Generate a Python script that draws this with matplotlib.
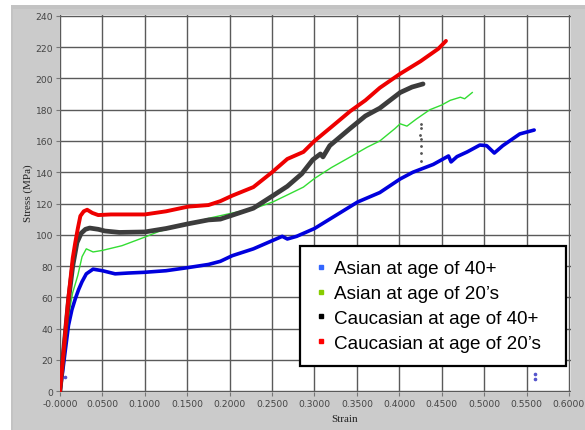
import matplotlib
matplotlib.use("Agg")
import matplotlib.pyplot as plt
import numpy as np
from matplotlib.patches import Rectangle
from matplotlib.lines import Line2D

# curves (strain, stress MPa)
asian40_x = [0, 0.003, 0.006, 0.010, 0.014, 0.018, 0.022, 0.026, 0.031, 0.039, 0.05, 0.065,
             0.08, 0.1, 0.125, 0.151, 0.175, 0.189, 0.203, 0.228, 0.245, 0.262, 0.268, 0.279,
             0.30, 0.315, 0.351, 0.377, 0.401, 0.416, 0.44, 0.458, 0.461, 0.468, 0.48, 0.495,
             0.503, 0.512, 0.522, 0.542, 0.559]
asian40_y = [0, 12, 25, 42, 52, 59, 65, 70, 75, 78, 77, 75, 75.5, 76, 77, 79, 81, 83, 86.6,
             91, 95, 99, 97.3, 99, 104, 109, 121, 127, 135.7, 140, 145, 150.4, 146.6, 150, 153,
             157.4, 157, 152.3, 157, 164.5, 167]

asian20_x = [0, 0.005, 0.010, 0.015, 0.021, 0.026, 0.031, 0.035, 0.039, 0.05, 0.073, 0.1,
             0.116, 0.151, 0.179, 0.209, 0.23, 0.251, 0.27, 0.287, 0.30, 0.32, 0.338, 0.362,
             0.377, 0.395, 0.401, 0.409, 0.42, 0.436, 0.45, 0.46, 0.472, 0.477, 0.486]
asian20_y = [0, 25, 48, 63, 74, 86, 91, 90, 89, 90, 93, 98.5, 102, 107, 111, 114.6, 117, 121,
             126, 130.5, 136, 143, 148.5, 156, 160, 168, 171, 169.5, 174, 180, 183, 186, 188,
             187, 191]

cauc40_x = [0, 0.005, 0.010, 0.015, 0.020, 0.025, 0.030, 0.035, 0.045, 0.053, 0.07, 0.1,
            0.125, 0.151, 0.175, 0.189, 0.203, 0.228, 0.251, 0.268, 0.285, 0.298, 0.307, 0.31,
            0.318, 0.342, 0.36, 0.377, 0.401, 0.415, 0.428]
cauc40_y = [0, 30, 58, 80, 95, 101, 103.5, 104.3, 103.5, 102.4, 101.5, 101.8, 104, 107, 109.5,
            110, 112.5, 117, 125, 131, 139, 148, 151.7, 149.8, 157, 168, 176, 181, 191, 194.5,
            196.5]

cauc20_x = [0, 0.005, 0.010, 0.015, 0.018, 0.021, 0.024, 0.028, 0.032, 0.038, 0.045, 0.06,
            0.08, 0.1, 0.125, 0.151, 0.175, 0.189, 0.203, 0.228, 0.25, 0.268, 0.287, 0.30,
            0.32, 0.342, 0.36, 0.377, 0.401, 0.425, 0.446, 0.455]
cauc20_y = [0, 30, 60, 85, 95, 104, 112, 115, 116, 114, 112.6, 113, 113, 113, 115, 118, 119,
            121.5, 125, 130.5, 140, 148.5, 153, 160, 169, 179, 186, 194, 203, 211, 219, 224]

# stray points
blue_dots_x = [0.006, 0.560, 0.560]
blue_dots_y = [9, 10.9, 7.7]
black_dots_x = [0.425, 0.425, 0.426, 0.425, 0.424, 0.425, 0.425]
black_dots_y = [147, 152, 157, 161, 164, 168, 171]

legend_labels = ["Asian at age of 40+", "Asian at age of 20\u2019s",
                 "Caucasian at age of 40+", "Caucasian at age of 20\u2019s"]
legend_colors = ["#3366ff", "#88cc00", "#000000", "#ff0000"]

xticks = np.arange(0, 0.61, 0.05)
yticks = np.arange(0, 241, 20)

W, H = 585, 431
fig = plt.figure(figsize=(W / 100, H / 100), dpi=100)
fig.patch.set_facecolor("white")
# gray panel background
fig.patches.append(Rectangle((11 / W, 0), 1 - 11 / W, 1 - 6 / H, transform=fig.transFigure,
                             facecolor="#c3c3c3", edgecolor="none", zorder=-2))
fig.patches.append(Rectangle((13 / W, 0), 1 - 13 / W, 1 - 10 / H, transform=fig.transFigure,
                             facecolor="#cbcbcb", edgecolor="none", zorder=-1))

ax = fig.add_axes([60 / W, (H - 393) / H, (571 - 60) / W, (393 - 16) / H])
ax.set_facecolor("white")

ax.plot(asian40_x, asian40_y, color="#0000dd", lw=2.6, zorder=3, solid_capstyle="round")
ax.plot(asian20_x, asian20_y, color="#33dd33", lw=1.0, zorder=3)
ax.plot(cauc40_x, cauc40_y, color="#3c3c3c", lw=3.4, zorder=3, solid_capstyle="round")
ax.plot(cauc20_x, cauc20_y, color="#ee0000", lw=2.8, zorder=3, solid_capstyle="round")
ax.plot(blue_dots_x, blue_dots_y, ls="none", marker="o", ms=1.6, color="#5555cc", zorder=3)
ax.plot(black_dots_x, black_dots_y, ls="none", marker="o", ms=1.0, color="#555555", zorder=3)

ax.set_xlim(0, 0.6024)
ax.set_ylim(-0.6, 240.6)
ax.set_xticks(xticks)
ax.set_yticks(yticks)
ax.set_xticklabels(["-0.0000"] + ["%.4f" % v for v in xticks[1:]])
ax.grid(True, color="#5a5a5a", lw=1.0)
ax.set_axisbelow(True)
for s in ax.spines.values():
    s.set_visible(False)
ax.tick_params(axis="both", length=3, width=0.8, color="#777777", labelcolor="#444444",
               labelsize=6.6, pad=2)

fig.text(28 / W, 1 - 193 / H, "Stress (MPa)", rotation=90, ha="center", va="center",
         fontsize=8, family="Liberation Serif", color="#222222")
fig.text(345 / W, 1 - 420 / H, "Strain", ha="center", va="center",
         fontsize=8, family="Liberation Serif", color="#222222")

handles = [Line2D([], [], ls="none", marker="s", ms=3, color=c) for c in legend_colors]
leg = ax.legend(handles, legend_labels, loc="lower left",
                bbox_to_anchor=(0.47, 0.069, 0.52, 0.3), mode="expand",
                prop={"family": "Liberation Sans", "size": 13.6}, fancybox=False,
                edgecolor="black", framealpha=1, handlelength=0.7, handletextpad=0.35,
                labelspacing=0.4, borderpad=0.75, borderaxespad=0)
leg.get_frame().set_linewidth(1.6)
leg.set_zorder(5)

fig.savefig("out.png", dpi=100)
